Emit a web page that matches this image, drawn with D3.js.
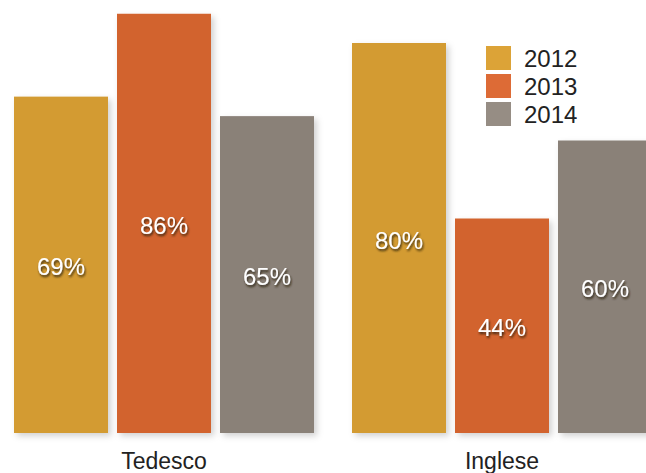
<!DOCTYPE html>
<html>
<head>
<meta charset="utf-8">
<script src="https://cdnjs.cloudflare.com/ajax/libs/d3/7.8.5/d3.min.js"></script>
<style>
body { margin: 0; background: #fff; }
text { font-family: "Helvetica Neue", Helvetica, "Liberation Sans", Arial, sans-serif; }
</style>
</head>
<body>
<script>
var categories = ["Tedesco", "Inglese"];
var years = ["2012", "2013", "2014"];
var values2012 = [69, 80];
var values2013 = [86, 44];
var values2014 = [65, 60];

var barColors = ["#d39b30", "#d2632e", "#8a8178"];
var legendColors = ["#dca337", "#dd6b36", "#968d84"];

var svg = d3.select("body")
    .append("svg")
    .attr("width", 646)
    .attr("height", 473)
    .style("display", "block");

var defs = svg.append("defs");
defs.append("filter").attr("id", "barShadow")
    .attr("x", "-10%").attr("y", "-10%").attr("width", "130%").attr("height", "130%")
    .append("feDropShadow")
    .attr("dx", 3).attr("dy", 3).attr("stdDeviation", 3)
    .attr("flood-color", "#000").attr("flood-opacity", 0.18);
defs.append("filter").attr("id", "textShadow")
    .attr("x", "-20%").attr("y", "-30%").attr("width", "150%").attr("height", "170%")
    .append("feDropShadow")
    .attr("dx", 1).attr("dy", 2).attr("stdDeviation", 0.8)
    .attr("flood-color", "#2a1a08").attr("flood-opacity", 0.9);

var series = [values2012, values2013, values2014];
var data = categories.map(function (c, i) {
    return {
        category: c,
        bars: years.map(function (y, j) {
            return {year: y, value: series[j][i], color: barColors[j]};
        })
    };
});

var x0 = d3.scaleBand()
    .domain(categories)
    .range([14, 652])
    .paddingInner(38 / 338);

var x1 = d3.scaleBand()
    .domain(years)
    .range([0, x0.bandwidth()])
    .paddingInner(9 / 103);

var y = d3.scaleLinear()
    .domain([0, 100])
    .range([433, -54.5]);

var groups = svg.selectAll(".group")
    .data(data)
    .enter()
    .append("g")
    .attr("class", "group")
    .attr("transform", function (d) { return "translate(" + x0(d.category) + ",0)"; });

groups.selectAll("rect")
    .data(function (d) { return d.bars; })
    .enter()
    .append("rect")
    .attr("x", function (d) { return x1(d.year); })
    .attr("y", function (d) { return y(d.value); })
    .attr("width", x1.bandwidth())
    .attr("height", function (d) { return y(0) - y(d.value); })
    .attr("fill", function (d) { return d.color; })
    .attr("filter", "url(#barShadow)");

groups.selectAll(".val")
    .data(function (d) { return d.bars; })
    .enter()
    .append("text")
    .attr("class", "val")
    .attr("x", function (d) { return x1(d.year) + x1.bandwidth() / 2; })
    .attr("y", function (d) { return (y(d.value) + y(0)) / 2 + 2; })
    .attr("text-anchor", "middle")
    .attr("dominant-baseline", "central")
    .attr("fill", "#fff")
    .style("font-size", "24px")
    .attr("filter", "url(#textShadow)")
    .text(function (d) { return d.value + "%"; });

// category axis
var xAxis = d3.axisBottom(x0).tickSize(0).tickPadding(0);
svg.append("g")
    .attr("transform", "translate(0,452)")
    .call(xAxis)
    .call(function (g) { g.select(".domain").remove(); })
    .selectAll("text")
    .attr("dy", null)
    .attr("y", 17)
    .style("font-family", "\"Helvetica Neue\", Helvetica, \"Liberation Sans\", Arial, sans-serif")
    .style("font-size", "23px")
    .attr("fill", "#222");

// legend
var legend = svg.append("g").attr("transform", "translate(486,46)");
var items = legend.selectAll("g")
    .data(years)
    .enter()
    .append("g")
    .attr("transform", function (d, i) { return "translate(0," + i * 28 + ")"; });
items.append("rect")
    .attr("width", 25)
    .attr("height", 24)
    .attr("fill", function (d, i) { return legendColors[i]; });
items.append("text")
    .attr("x", 38)
    .attr("y", 21)
    .attr("fill", "#222")
    .style("font-size", "24px")
    .text(function (d) { return d; });
</script>
</body>
</html>
